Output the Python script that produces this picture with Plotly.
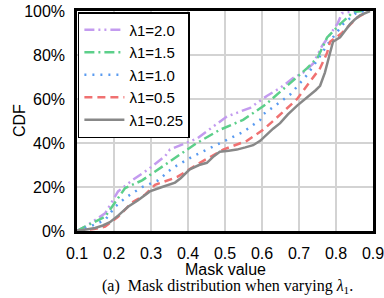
import plotly.graph_objects as go

x_l200 = [0.10, 0.122, 0.176, 0.211, 0.249, 0.292, 0.338, 0.351, 0.424, 0.505, 0.568, 0.614, 0.649, 0.684, 0.711, 0.738, 0.762, 0.778, 0.805, 0.816, 0.857]
y_l200 = [0.0, 0.02, 0.08, 0.18, 0.23, 0.28, 0.34, 0.37, 0.42, 0.52, 0.56, 0.615, 0.65, 0.695, 0.72, 0.76, 0.84, 0.88, 0.945, 0.99, 1.0]

x_l150 = [0.10, 0.122, 0.176, 0.203, 0.23, 0.276, 0.319, 0.365, 0.424, 0.486, 0.549, 0.61, 0.676, 0.722, 0.751, 0.776, 0.811, 0.846, 0.87]
y_l150 = [0.0, 0.02, 0.065, 0.13, 0.195, 0.23, 0.28, 0.335, 0.40, 0.46, 0.505, 0.575, 0.67, 0.74, 0.79, 0.88, 0.94, 0.995, 1.0]

x_l100 = [0.10, 0.135, 0.176, 0.203, 0.23, 0.276, 0.319, 0.357, 0.414, 0.486, 0.549, 0.595, 0.603, 0.676, 0.722, 0.751, 0.778, 0.819, 0.857, 0.88]
y_l100 = [0.0, 0.02, 0.05, 0.11, 0.15, 0.20, 0.23, 0.285, 0.34, 0.40, 0.45, 0.505, 0.53, 0.62, 0.71, 0.78, 0.85, 0.94, 0.995, 1.0]

x_l050 = [0.10, 0.13, 0.15, 0.176, 0.211, 0.249, 0.284, 0.311, 0.346, 0.37, 0.432, 0.495, 0.559, 0.603, 0.63, 0.695, 0.73, 0.757, 0.776, 0.784, 0.816, 0.857, 0.884, 0.89]
y_l050 = [0.0, 0.005, 0.01, 0.02, 0.065, 0.13, 0.165, 0.21, 0.23, 0.245, 0.31, 0.37, 0.41, 0.46, 0.50, 0.60, 0.68, 0.74, 0.81, 0.86, 0.90, 0.97, 0.995, 1.0]

x_l025 = [0.10, 0.12, 0.149, 0.17, 0.189, 0.211, 0.238, 0.265, 0.297, 0.33, 0.351, 0.365, 0.38, 0.405, 0.43, 0.451, 0.47, 0.486, 0.51, 0.532, 0.555, 0.576, 0.595, 0.614, 0.63, 0.649, 0.67, 0.695, 0.71, 0.73, 0.745, 0.757, 0.77, 0.784, 0.792, 0.811, 0.825, 0.838, 0.85, 0.865, 0.892]
y_l025 = [0.0, 0.005, 0.014, 0.025, 0.04, 0.07, 0.11, 0.14, 0.18, 0.20, 0.21, 0.22, 0.24, 0.28, 0.30, 0.31, 0.34, 0.36, 0.365, 0.37, 0.38, 0.39, 0.41, 0.44, 0.465, 0.49, 0.53, 0.57, 0.59, 0.62, 0.64, 0.66, 0.72, 0.81, 0.86, 0.88, 0.91, 0.94, 0.96, 0.98, 1.0]

series_names = ["λ1=2.0", "λ1=1.5", "λ1=1.0", "λ1=0.5", "λ1=0.25"]
x_ticks = [0.1, 0.2, 0.3, 0.4, 0.5, 0.6, 0.7, 0.8, 0.9]
y_ticks = [0, 0.2, 0.4, 0.6, 0.8, 1.0]
y_tick_labels = ["0%", "20%", "40%", "60%", "80%", "100%"]

xs = [x_l200, x_l150, x_l100, x_l050, x_l025]
ys = [y_l200, y_l150, y_l100, y_l050, y_l025]
colors = ["#c39bef", "#5ccf8a", "#5a9bf0", "#f07171", "#888888"]
dashes = ["10px,4px,2px,4px,2px,4px", "10px,4px,2px,4px", "2px,6px", "8px,5px", "solid"]

fig = go.Figure()
for x, y, n, c, d in zip(xs, ys, series_names, colors, dashes):
    fig.add_trace(go.Scatter(x=x, y=y, name=n, mode="lines",
                             line=dict(color=c, width=2.5, dash=d)))

font = "Liberation Sans, Arial, sans-serif"
fig.update_layout(
    width=384, height=298,
    autosize=False,
    margin=dict(l=77, r=11, t=11, b=67, autoexpand=False),
    paper_bgcolor="white", plot_bgcolor="white",
    font=dict(family=font, size=16, color="black"),
    showlegend=True,
    legend=dict(x=0.003, y=0.995, xanchor="left", yanchor="top",
                bgcolor="white", bordercolor="black", borderwidth=1.5,
                font=dict(family=font, size=15), tracegroupgap=0,
                itemwidth=40),
    xaxis=dict(range=[0.1, 0.9], tickvals=x_ticks, ticktext=[f"{v:.1f}" for v in x_ticks],
               showgrid=True, gridcolor="#d3d3d3", gridwidth=1.5,
               showline=True, linecolor="black", linewidth=2.5, mirror=True,
               ticks="outside", ticklen=6, tickcolor="rgba(0,0,0,0)",
               ticklabeloverflow="allow",
               automargin=False, zeroline=False),
    yaxis=dict(range=[0, 1.0], tickvals=y_ticks, ticktext=y_tick_labels,
               showgrid=True, gridcolor="#d3d3d3", gridwidth=1.5,
               showline=True, linecolor="black", linewidth=2.5, mirror=True,
               ticks="outside", ticklen=6, tickcolor="rgba(0,0,0,0)",
               ticklabeloverflow="allow",
               automargin=False, zeroline=False),
    annotations=[
        dict(text="CDF", xref="paper", yref="paper", x=0, y=0.5, xshift=-58,
             xanchor="center", yanchor="middle",
             textangle=-90, showarrow=False, font=dict(family=font, size=16)),
        dict(text="Mask value", xref="paper", yref="paper", x=0.5, y=0,
             yshift=-38, xanchor="center", yanchor="middle", showarrow=False,
             font=dict(family=font, size=16)),
        dict(text="(a)  Mask distribution when varying <i>λ</i><sub>1</sub>.",
             xref="paper", yref="paper", x=0.51, y=0, yshift=-55,
             xanchor="center", yanchor="middle", showarrow=False,
             font=dict(family="Liberation Serif, Times New Roman, serif", size=16)),
    ],
)

fig.write_html("out.html", config={"displayModeBar": False},
               post_script="document.body.style.margin='0';")
